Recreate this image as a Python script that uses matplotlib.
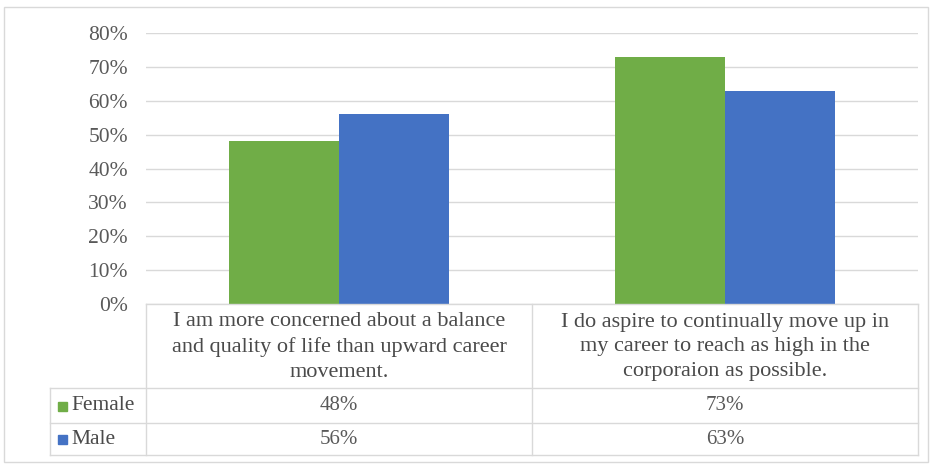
import matplotlib.pyplot as plt
import numpy as np

categories = ["I am more concerned about a balance\nand quality of life than upward career\nmovement.",
              "I do aspire to continually move up in\nmy career to reach as high in the\ncorporaion as possible."]
series = ["Female", "Male"]
female = [48, 73]
male = [56, 63]
colors = ["#70AD47", "#4472C4"]
yticks = [0, 10, 20, 30, 40, 50, 60, 70, 80]

W, H = 939, 465
plt.rcParams['font.family'] = ['Liberation Serif', 'DejaVu Serif']

fig = plt.figure(figsize=(W / 100, H / 100), dpi=100)


def fx(px):
    return px / W


def fy(py):
    return 1 - py / H


# plot area in pixels
x0, x1, ytop, ybot = 146, 918, 33, 304
ax = fig.add_axes([fx(x0), fy(ybot), fx(x1 - x0), (ybot - ytop) / H])

n = len(categories)
pos = np.arange(n)
bw = 0.285
ax.bar(pos - bw / 2, female, bw, color=colors[0], zorder=3)
ax.bar(pos + bw / 2, male, bw, color=colors[1], zorder=3)
ax.set_xlim(-0.5, n - 0.5)
ax.set_ylim(0, 80)
ax.set_yticks(yticks)
ax.set_yticklabels([f"{t}%" for t in yticks], color="#595959", fontsize=15.5)
ax.tick_params(axis='y', length=0, pad=13)
ax.set_xticks([])
ax.grid(axis='y', color="#d9d9d9", linewidth=1, zorder=0)
for s in ax.spines.values():
    s.set_visible(False)

# outer chart border
fig.add_artist(plt.Rectangle((fx(4), fy(462)), fx(928 - 4), (462 - 7) / H,
                             fill=False, edgecolor="#d9d9d9", lw=1,
                             transform=fig.transFigure))

# data table below the axes
lc = "#d9d9d9"
col_x = [x0 + (x1 - x0) * i / n for i in range(n + 1)]
row_y = [ybot, 388, 423, 455]
tab_left = 50


def hline(y, xa, xb):
    fig.add_artist(plt.Line2D([fx(xa), fx(xb)], [fy(y), fy(y)], color=lc, lw=1))


def vline(x, ya, yb):
    fig.add_artist(plt.Line2D([fx(x), fx(x)], [fy(ya), fy(yb)], color=lc, lw=1))


hline(row_y[0], x0, x1)
for y in row_y[1:]:
    hline(y, tab_left, x1)
for x in col_x:
    vline(x, row_y[0], row_y[-1])
vline(tab_left, row_y[1], row_y[-1])

for i, cat in enumerate(categories):
    cx = (col_x[i] + col_x[i + 1]) / 2
    fig.text(fx(cx), fy((row_y[0] + row_y[1]) / 2 + 1), cat, ha='center', va='center',
             fontsize=16, color="#4a4a4a", linespacing=1.4)

for r, (name, vals) in enumerate(zip(series, [female, male])):
    yc = (row_y[r + 1] + row_y[r + 2]) / 2
    fig.add_artist(plt.Rectangle((fx(58), fy(yc + 5)), fx(9), 9 / H,
                                 color=colors[r], transform=fig.transFigure))
    fig.text(fx(71), fy(yc), name, ha='left', va='center', fontsize=15.5, color="#4a4a4a")
    for i, v in enumerate(vals):
        cx = (col_x[i] + col_x[i + 1]) / 2
        fig.text(fx(cx), fy(yc), f"{v}%", ha='center', va='center', fontsize=15, color="#595959")

fig.savefig("out.png", dpi=100)
